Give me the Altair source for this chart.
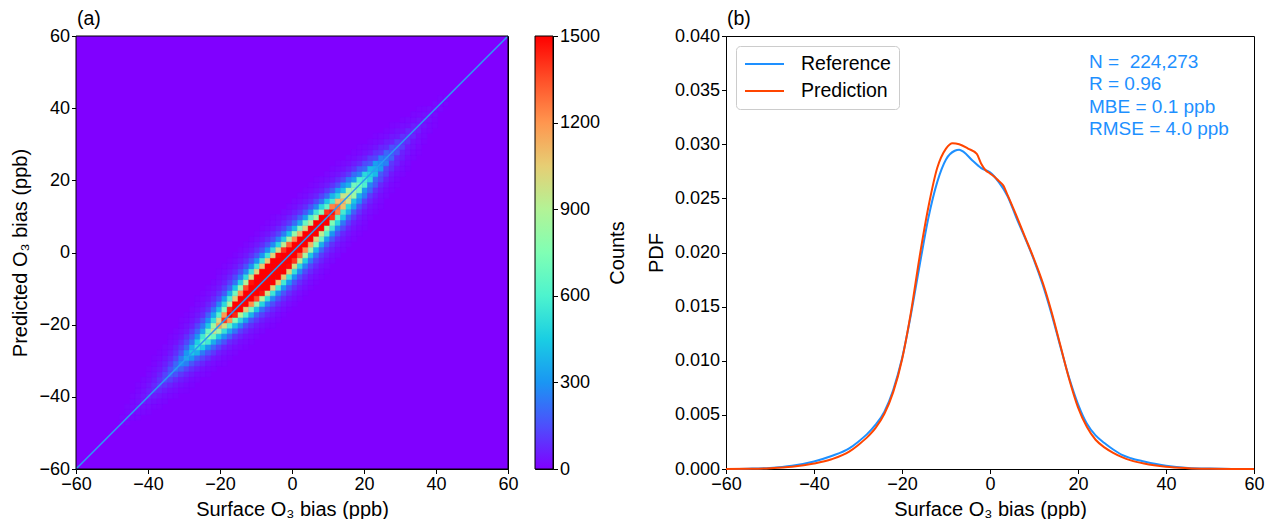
import altair as alt
import pandas as pd

FONT = "Liberation Sans"

# ---------------- panel (a): 2-D histogram ----------------
AXIS_MIN = -60.0
BIN_WIDTH = 1.5
N_BINS = 80

# peak count on the 1:1 diagonal, one value per 1.5-ppb bin from -60 to 60
along_counts = [
    0, 0, 1, 1, 2, 3, 5, 7, 11, 16,
    24, 34, 47, 63, 84, 110, 142, 182, 230, 290,
    360, 440, 540, 660, 800, 970, 1170, 1400, 1680, 2000,
    2350, 2700, 3000, 3250, 3450, 3550, 3550, 3450, 3300, 3100,
    2900, 2700, 2480, 2260, 2050, 1850, 1650, 1460, 1280, 1120,
    970, 830, 700, 580, 470, 380, 300, 235, 180, 138,
    105, 80, 60, 45, 33, 24, 17, 12, 8, 5,
    3, 2, 1, 0, 0, 0, 0, 0, 0, 0,
]
# fraction of the diagonal count, by distance (in bins) from the diagonal
across_fraction = [1.0, 0.85, 0.45, 0.3, 0.16, 0.085, 0.045, 0.025, 0.013,
                   0.007, 0.003]

rows = []
for i in range(N_BINS):
    for j in range(N_BINS):
        k = abs(j - i)
        frac = across_fraction[k] if k < len(across_fraction) else 0.0
        c = along_counts[(i + j) // 2] * frac
        if c >= 8:
            rows.append({
                "x0": AXIS_MIN + BIN_WIDTH * i, "x1": AXIS_MIN + BIN_WIDTH * (i + 1),
                "y0": AXIS_MIN + BIN_WIDTH * j, "y1": AXIS_MIN + BIN_WIDTH * (j + 1),
                "count": c,
            })
hist_df = pd.DataFrame(rows)

one_to_one = [-60, 60]
axis_ticks = [-60, -40, -20, 0, 20, 40, 60]
count_ticks = [0, 300, 600, 900, 1200, 1500]
count_range = [0, 1500]

# matplotlib "rainbow" colormap
rainbow = ["#8000ff", "#4d4ffc", "#1a96f3", "#1acee3", "#4df3ce", "#80ffb4",
           "#b3f396", "#e6ce74", "#ff964f", "#ff4f28", "#ff0000"]

W_A, H = 432, 433
XSCALE = alt.Scale(domain=[-60, 60], nice=False, zero=False)

cscale = alt.Scale(domain=count_range, range=rainbow, clamp=True, interpolate="rgb")

background = alt.Chart(pd.DataFrame({"a": [0]})).mark_rect(color=rainbow[0]).encode(
    x=alt.value(0), x2=alt.value(W_A), y=alt.value(0), y2=alt.value(H))

heat_rects = alt.Chart(hist_df).mark_rect(strokeWidth=0.5).encode(
    x=alt.X("x0:Q", scale=XSCALE,
            axis=alt.Axis(values=axis_ticks, title="Surface O₃ bias (ppb)", labelFlush=False)),
    x2="x1:Q",
    y=alt.Y("y0:Q", scale=XSCALE,
            axis=alt.Axis(values=axis_ticks, title="Predicted O₃ bias (ppb)")),
    y2="y1:Q",
    color=alt.Color("count:Q", scale=cscale, legend=None),
    stroke=alt.Stroke("count:Q", scale=cscale, legend=None),
)

diag_line = alt.Chart(pd.DataFrame({"v": one_to_one})).mark_line(
    color="#2a9df4", strokeWidth=1.5).encode(x="v:Q", y="v:Q")

frame_a = alt.Chart(pd.DataFrame({"a": [0]})).mark_rect(
    fillOpacity=0, stroke="black", strokeWidth=1).encode(
    x=alt.value(0), x2=alt.value(W_A), y=alt.value(0), y2=alt.value(H))

label_a = alt.Chart(pd.DataFrame({"t": ["(a)"]})).mark_text(
    align="left", baseline="alphabetic", fontSize=19.5, font=FONT, color="black").encode(
    text="t:N", x=alt.value(1), y=alt.value(-11))

heat = alt.layer(background, heat_rects, diag_line, frame_a, label_a).properties(
    width=W_A, height=H)

# colour bar
gradient = alt.LinearGradient(
    gradient="linear", x1=0, x2=0, y1=1, y2=0,
    stops=[alt.GradientStop(color=c, offset=i / (len(rainbow) - 1)) for i, c in enumerate(rainbow)],
)
cbar = alt.Chart(pd.DataFrame({"lo": [count_range[0]], "hi": [count_range[1]]})).mark_rect(
    fill=gradient, stroke="black", strokeWidth=1).encode(
    x=alt.value(0), x2=alt.value(18),
    y=alt.Y("lo:Q", scale=alt.Scale(domain=count_range, nice=False),
            axis=alt.Axis(orient="right", values=count_ticks, format="d", title="Counts",
                          titleAngle=270, titleBaseline="top", titlePadding=8)),
    y2="hi:Q",
).properties(width=18, height=H)

spacer = alt.Chart(pd.DataFrame({"a": [0]})).mark_point(opacity=0).encode(
    x=alt.value(0), y=alt.value(0)
).properties(width=119, height=H, view=alt.ViewBackground(stroke="transparent"))

# ---------------- panel (b): PDFs ----------------
ref_x = [-60, -55, -50, -45, -40, -36, -32, -30, -28, -26, -24, -22, -20, -18, -16,
         -14, -12, -10, -8, -7, -6, -4, -2, 0, 2, 4, 6, 8, 10, 12, 14, 16, 18, 20,
         22, 24, 26, 28, 30, 32, 35, 40, 45, 50, 55, 60]
ref_pdf = [0.0, 0.00003, 0.0001, 0.0003, 0.0007, 0.0012, 0.0019, 0.0025, 0.0032,
           0.0041, 0.0053, 0.0073, 0.0102, 0.0142, 0.0188, 0.0232, 0.0265, 0.0286,
           0.0294, 0.0295, 0.0293, 0.0285, 0.0278, 0.0274, 0.0265, 0.0252, 0.0232,
           0.0213, 0.0193, 0.0170, 0.0143, 0.0113, 0.0084, 0.0060, 0.0042, 0.0031,
           0.0024, 0.0018, 0.0013, 0.0010, 0.0007, 0.0003, 0.0001, 0.00004,
           0.00001, 0.0]

pred_x = [-60, -55, -50, -45, -40, -36, -32, -30, -28, -26, -24, -22, -20, -18, -16,
          -14, -12, -10, -8.5, -7, -5, -3, -2, -1, 0, 1, 2, 3, 4, 6, 8, 10, 12, 14,
          16, 18, 20, 22, 24, 26, 28, 30, 32, 35, 40, 45, 50, 55, 60]
pred_pdf = [0.0, 0.00002, 0.00007, 0.0002, 0.0005, 0.0009, 0.0016, 0.0022, 0.0029,
            0.0038, 0.0051, 0.0071, 0.0101, 0.0144, 0.0196, 0.0242, 0.0278, 0.0296,
            0.0301, 0.0300, 0.0296, 0.0291, 0.0282, 0.0276, 0.0273, 0.0270, 0.0266,
            0.0262, 0.0253, 0.0234, 0.0214, 0.0194, 0.0172, 0.0145, 0.0114, 0.0083,
            0.0057, 0.0039, 0.0027, 0.0020, 0.0015, 0.0011, 0.0008, 0.0005, 0.0002,
            0.00008, 0.00003, 0.00001, 0.0]

series_names = ["Reference", "Prediction"]
series_colors = ["#1e90ff", "#ff4500"]
pdf_ticks = [0.0, 0.005, 0.01, 0.015, 0.02, 0.025, 0.03, 0.035, 0.04]
stats_lines = ["N =\u00a0 224,273", "R = 0.96", "MBE = 0.1 ppb", "RMSE = 4.0 ppb"]

pdf_df = pd.concat([
    pd.DataFrame({"x": ref_x, "pdf": ref_pdf, "series": series_names[0], "o": 0}),
    pd.DataFrame({"x": pred_x, "pdf": pred_pdf, "series": series_names[1], "o": 1}),
], ignore_index=True)

W_B = 528
lines = alt.Chart(pdf_df).mark_line(strokeWidth=2, interpolate="monotone").encode(
    x=alt.X("x:Q", scale=XSCALE,
            axis=alt.Axis(values=axis_ticks, title="Surface O₃ bias (ppb)", labelFlush=False)),
    y=alt.Y("pdf:Q", scale=alt.Scale(domain=[0, 0.04], nice=False),
            axis=alt.Axis(values=pdf_ticks, format=".3f", title="PDF")),
    color=alt.Color("series:N", scale=alt.Scale(domain=series_names, range=series_colors),
                    legend=alt.Legend(orient="top-left", offset=10, title=None,
                                      fillColor="white", strokeColor="#cccccc",
                                      cornerRadius=4, padding=8, symbolType="stroke",
                                      symbolStrokeWidth=2, symbolSize=1521,
                                      clipHeight=20, rowPadding=7,
                                      labelFontSize=19.5, labelFont=FONT, labelColor="black",
                                      labelOffset=16)),
    order="o:Q",
)

stats = alt.Chart(pd.DataFrame({"t": ["\n".join(stats_lines)]})).mark_text(
    align="left", baseline="top", fontSize=19, font=FONT, color="#1e90ff",
    lineBreak="\n", lineHeight=22.3).encode(
    text="t:N", x=alt.value(363), y=alt.value(17))

label_b = alt.Chart(pd.DataFrame({"t": ["(b)"]})).mark_text(
    align="left", baseline="alphabetic", fontSize=19.5, font=FONT, color="black").encode(
    text="t:N", x=alt.value(1), y=alt.value(-11))

pdf_panel = alt.layer(lines, stats, label_b).properties(width=W_B, height=H)

chart = alt.hconcat(heat, cbar, spacer, pdf_panel, spacing=27, bounds="flush").resolve_scale(
    color="independent", x="independent", y="independent"
).configure_view(stroke="black", strokeWidth=1).configure_axis(
    labelFont=FONT, labelFontSize=18, titleFont=FONT, titleFontSize=20,
    titleFontWeight="normal", labelColor="black", titleColor="black",
    tickColor="black", domainColor="black", tickSize=4.5, labelPadding=2,
    grid=False, domainWidth=1, tickWidth=1,
).configure_axisX(titlePadding=6).configure_axisY(titlePadding=8).properties(
    padding={"left": 2, "right": 0, "top": 0, "bottom": 0}
)

chart.save("out.html", embed_options={"renderer": "svg", "actions": False})
